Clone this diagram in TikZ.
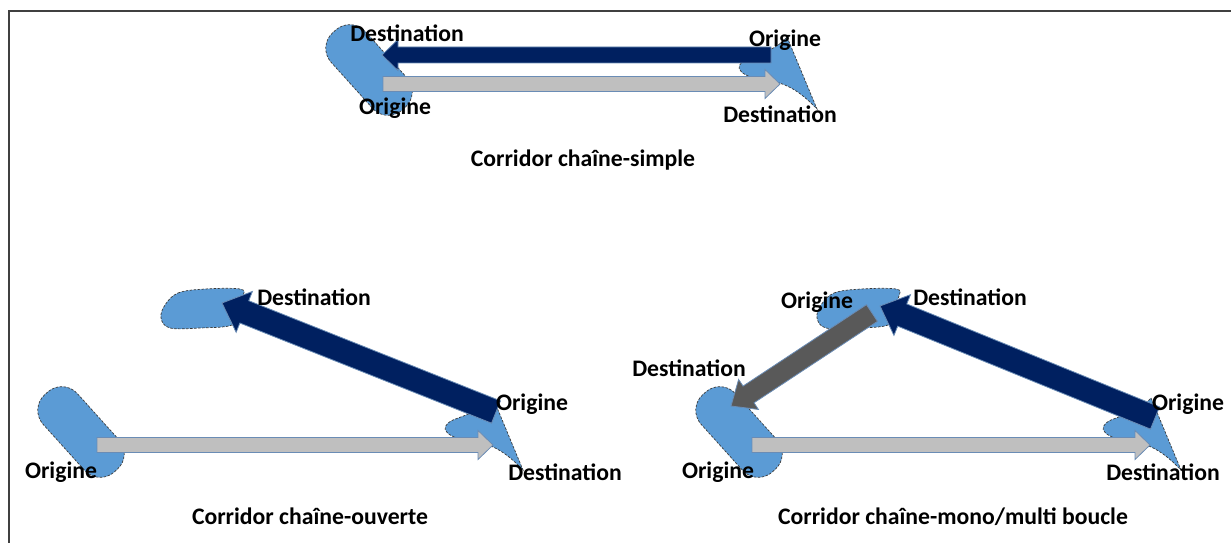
\documentclass[tikz,border=0pt]{standalone}
\usepackage{fontspec}
\setmainfont{Carlito}
\usetikzlibrary{calc}
\definecolor{zonefill}{HTML}{5B9BD5}
\definecolor{zoneline}{HTML}{3A3A3A}
\definecolor{flownavy}{HTML}{002060}
\definecolor{flowgray}{HTML}{BFBFBF}
\definecolor{flowdark}{HTML}{595959}
\definecolor{flowline}{HTML}{6A8CB5}
\definecolor{framegray}{HTML}{404040}
\tikzset{
  zone/.style={fill=zonefill, draw=zoneline, line width=0.7pt, dash pattern=on 2.5pt off 1.5pt},
  txt/.style={font=\bfseries\fontsize{23.7}{28}\selectfont, inner sep=0pt, anchor=base},
  frame/.style={draw=framegray, line width=2pt},
  aller/.style={fill=flowgray, draw=flowline, line width=0.8pt},
  retour/.style={fill=flownavy, draw=flowline, line width=0.8pt},
  boucle/.style={fill=flowdark, draw=flowline, line width=0.8pt},
  oblong/.pic={\draw[zone, rotate=-48, rounded corners=21pt] (-52,-23) rectangle (52,23);},
  wedge/.pic={\draw[zone] (0,0) -- (30,72) .. controls (18,60) and (5,47) .. (-20,43)
    .. controls (-45,41) and (-57,30) .. (-40,22) .. controls (-25,16) and (-10,12) .. (0,0) -- cycle;},
  flat/.pic={\draw[zone] plot[smooth cycle, tension=0.6] coordinates
    {(-35,-3) (-22,-15) (5,-19) (40,-19) (43,-12) (35,4) (32,17) (0,20) (-30,20) (-39,10)};}
}
% style, tail, tip, shaft half width, head half width, head length
\newcommand{\blockarrow}[6]{%
  \coordinate (ba-h) at ($(#3)!#6!(#2)$);
  \draw[#1] ($(#2)!#4!90:(#3)$) -- ($(ba-h)!#4!-90:(#2)$) -- ($(ba-h)!#5!-90:(#2)$) -- (#3)
    -- ($(ba-h)!#5!90:(#2)$) -- ($(ba-h)!#4!90:(#2)$) -- ($(#2)!#4!-90:(#3)$) -- cycle;
}

\begin{document}
\begin{tikzpicture}[x=1pt, y=-1pt]
  \useasboundingbox (0,0) rectangle (1231,543);
  \draw[frame] (9,543) -- (9,11) -- (1231,11);

  \pic at (369,70) {oblong};
  \pic at (787,37) {wedge};
  \pic at (200,308) {flat};
  \pic at (81,432) {oblong};
  \pic at (493,398) {wedge};
  \pic at (856,308) {flat};
  \pic at (739,432) {oblong};
  \pic at (1151,398) {wedge};

  \coordinate (s-a1) at (383,84);   \coordinate (s-b1) at (780,84);
  \coordinate (s-a2) at (771,55);   \coordinate (s-b2) at (382,55);
  \coordinate (o-a1) at (97,445);   \coordinate (o-b1) at (493,445);
  \coordinate (o-a2) at (496,412);  \coordinate (o-b2) at (222,303);
  \coordinate (b-a1) at (752,445);  \coordinate (b-b1) at (1150,445);
  \coordinate (b-a2) at (1155,418); \coordinate (b-b2) at (880,306);
  \coordinate (b-a3) at (872,313);  \coordinate (b-b3) at (731,406);

  \blockarrow{aller}{s-a1}{s-b1}{7.5pt}{14.5pt}{15pt}
  \blockarrow{retour}{s-a2}{s-b2}{8pt}{15.5pt}{16pt}
  \blockarrow{aller}{o-a1}{o-b1}{7.5pt}{14.5pt}{15pt}
  \blockarrow{retour}{o-a2}{o-b2}{12pt}{22pt}{24pt}
  \blockarrow{aller}{b-a1}{b-b1}{7.5pt}{14.5pt}{15pt}
  \blockarrow{boucle}{b-a3}{b-b3}{10pt}{18pt}{21pt}
  \blockarrow{retour}{b-a2}{b-b2}{12pt}{22pt}{24pt}

  \node[txt] (s-dest1) at (407,42) {Destination};
  \node[txt] (s-orig1) at (395,114) {Origine};
  \node[txt] (s-orig2) at (785,47) {Origine};
  \node[txt] (s-dest2) at (780,122) {Destination};
  \node[txt] (s-title) at (583,166) {Corridor chaîne-simple};

  \node[txt] (o-dest1) at (314,305) {Destination};
  \node[txt] (o-orig1) at (61,478) {Origine};
  \node[txt] (o-orig2) at (532,410) {Origine};
  \node[txt] (o-dest2) at (565,480) {Destination};
  \node[txt] (o-title) at (310,524) {Corridor chaîne-ouverte};

  \node[txt] (b-orig1) at (817,308) {Origine};
  \node[txt] (b-dest1) at (970,305) {Destination};
  \node[txt] (b-dest2) at (689,376) {Destination};
  \node[txt] (b-orig2) at (1188,410) {Origine};
  \node[txt] (b-orig3) at (718,478) {Origine};
  \node[txt] (b-dest3) at (1163,480) {Destination};
  \node[txt] (b-title) at (953,524) {Corridor chaîne-mono/multi boucle};
\end{tikzpicture}
\end{document}
